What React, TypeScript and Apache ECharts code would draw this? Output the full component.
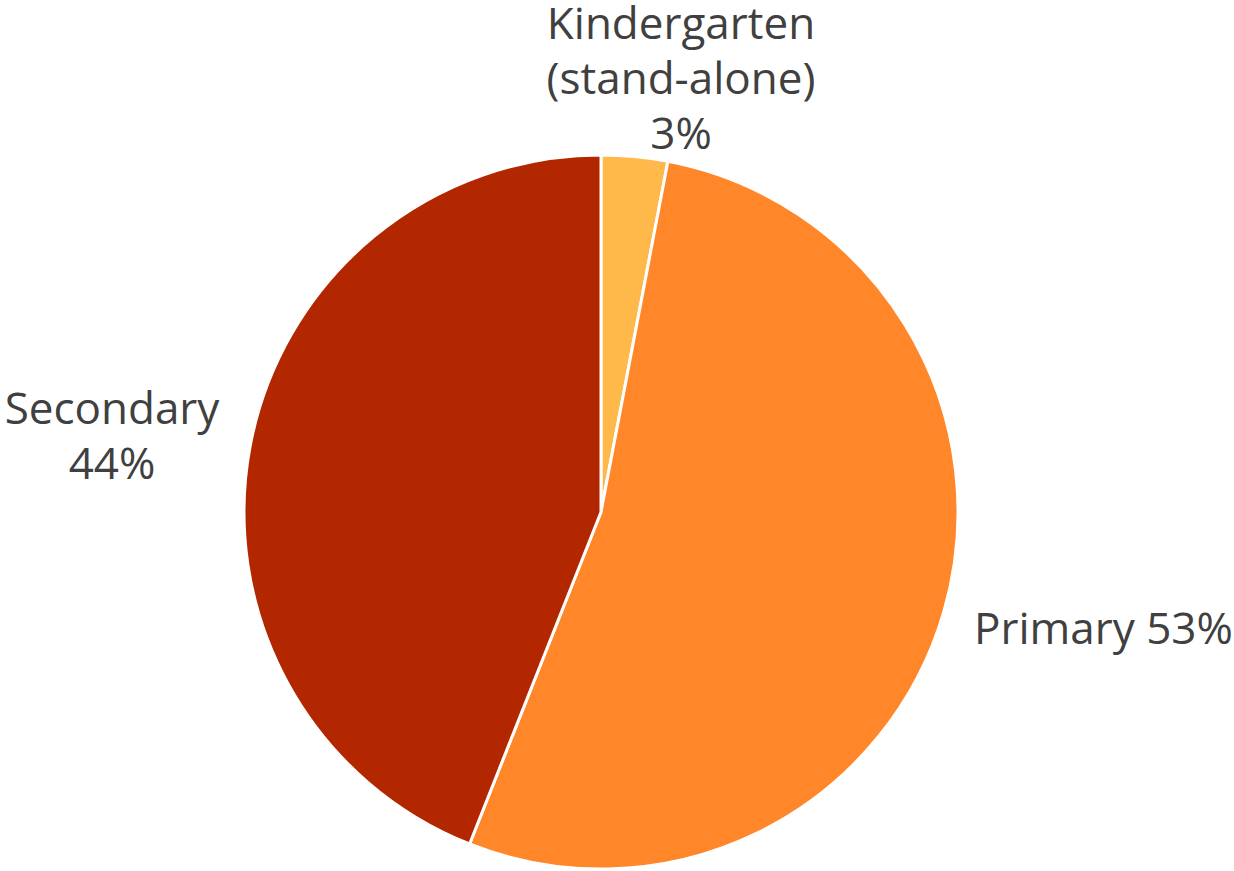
import React, { useEffect, useRef } from "react";
import * as echarts from "echarts";

const categories = ["Kindergarten\n(stand-alone)", "Primary", "Secondary"];
const values = [3, 53, 44];
const colors = ["#FFB94A", "#FF8629", "#B22600"];
// label anchor positions (pixels) for each slice label
const labelPos = [
  { x: 681, y: 77, align: "center" },
  { x: 974, y: 627, align: "left" },
  { x: 112, y: 434, align: "center" },
];

export default function App() {
  const ref = useRef<HTMLDivElement>(null);
  useEffect(() => {
    document.body.style.margin = "0";
    const chart = echarts.init(ref.current!, null, { renderer: "svg" });
    chart.setOption({
      animation: false,
      backgroundColor: "#ffffff",
      series: [
        {
          type: "pie",
          center: [601, 512],
          radius: 357,
          startAngle: 90,
          clockwise: true,
          data: categories.map((name, i) => ({
            name,
            value: values[i],
            itemStyle: { color: colors[i] },
          })),
          itemStyle: { borderColor: "#ffffff", borderWidth: 3 },
          label: {
            show: true,
            formatter: (p: any) =>
              p.dataIndex === 1 ? `${p.name} ${p.value}%` : `${p.name}\n${p.value}%`,
            fontFamily: "'Open Sans', sans-serif",
            fontSize: 44,
            lineHeight: 55,
            color: "#404040",
            overflow: "none",
          },
          labelLine: { show: false },
          labelLayout: (params: any) => {
            const p = labelPos[params.dataIndex];
            return { x: p.x, y: p.y, align: p.align, verticalAlign: "middle" };
          },
          emphasis: { disabled: true },
        },
      ],
    });
    return () => chart.dispose();
  }, []);
  return <div ref={ref} style={{ width: 1234, height: 871 }} />;
}
